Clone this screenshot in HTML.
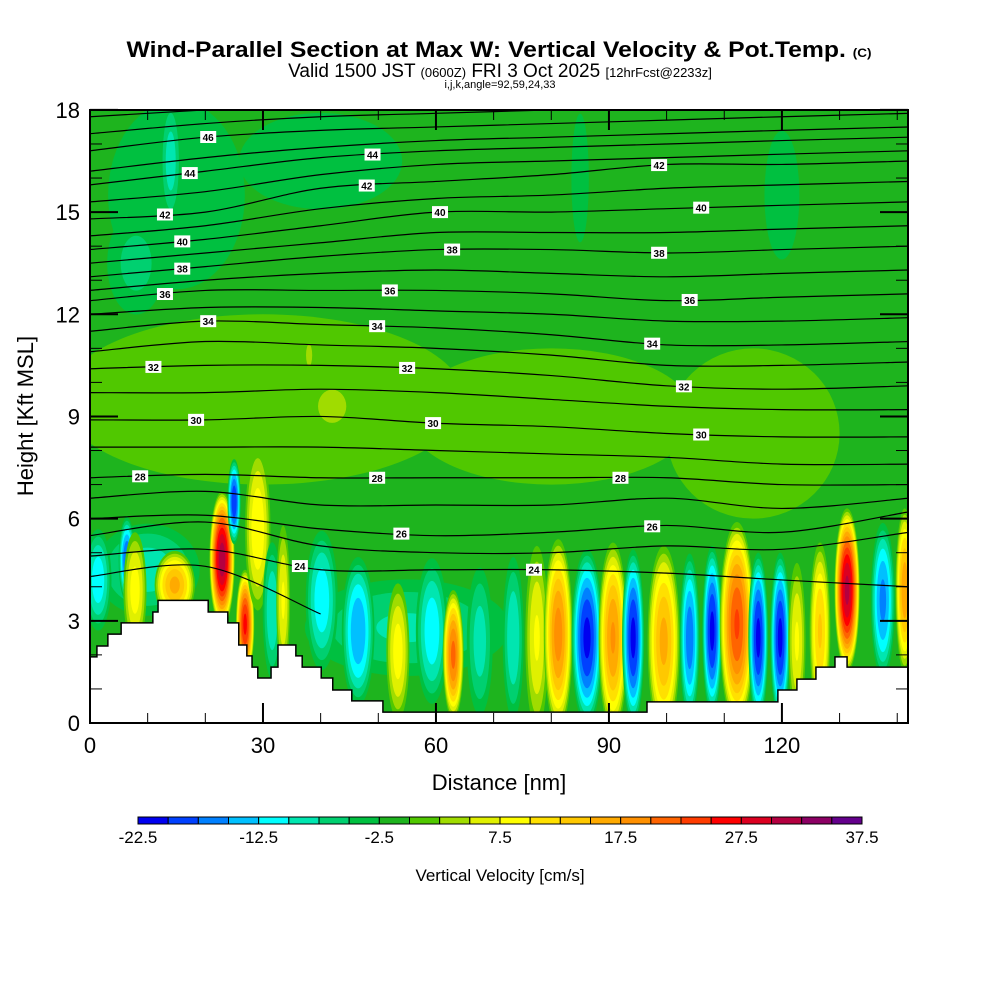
<!DOCTYPE html>
<html><head><meta charset="utf-8"><style>
body{margin:0;background:#fff;}
svg text{font-family:"Liberation Sans",sans-serif;}
</style></head><body>
<svg id="chart" width="1000" height="1000" xmlns="http://www.w3.org/2000/svg">
<defs><clipPath id="clip"><rect x="90" y="110" width="818" height="613"/></clipPath></defs>
<rect width="1000" height="1000" fill="#fff"/>
<text x="499" y="57" text-anchor="middle" font-size="22" font-weight="bold" textLength="745" lengthAdjust="spacingAndGlyphs">Wind-Parallel Section at Max W: Vertical Velocity &amp; Pot.Temp. <tspan font-size="12">(C)</tspan></text>
<text x="500" y="77" text-anchor="middle" font-size="19">Valid 1500 JST <tspan font-size="13">(0600Z)</tspan> FRI 3 Oct 2025 <tspan font-size="13">[12hrFcst@2233z]</tspan></text>
<text x="500" y="88" text-anchor="middle" font-size="11">i,j,k,angle=92,59,24,33</text>
<g id="plot" clip-path="url(#clip)"></g>
<g id="axes"></g>
<g id="cbar"></g>
<text transform="translate(33,416) rotate(-90)" text-anchor="middle" font-size="22">Height [Kft MSL]</text>
<text x="499" y="790" text-anchor="middle" font-size="22">Distance [nm]</text>
<text x="500" y="881" text-anchor="middle" font-size="17">Vertical Velocity [cm/s]</text>
</svg>
<script>
const binColors=["#0000f0","#0040ff","#0080ff","#00c0ff","#00ffff","#00e6b0","#00d070","#00c040","#1eb41e","#50c800","#a0dc00","#e0f000","#ffff00","#ffe000","#ffc800","#ffaa00","#ff9000","#ff6400","#ff3c00","#ff0000","#dc0020","#b40040","#8c0064","#64008c"];
const cbarLabels=["-22.5","-12.5","-2.5","7.5","17.5","27.5","37.5"];
const xTicks=[0,30,60,90,120];
const yTicks=[0,3,6,9,12,15,18];
// vertical velocity blobs (nm, kft, cm/s) with extents
const blobX=[15,14,8,40,85,120,30,80,115,42,38,10,55,
1.4,6.4,7.8,14.7,22.9,25,26.9,29.1,31.6,33.5,40.2,46.5,53.4,59.3,63,67.6,73.4,77.5,81.2,86.2,90.7,94.2,99.5,104,107.9,112.2,115.9,119.7,122.6,126.6,131.3,137.5,141.3];
const blobY=[15.5,16.5,13.5,16.5,16,15.5,9.5,9,8.5,9.3,10.8,4.5,2.8,
4.2,4.8,3.9,4.05,4.8,6.5,2.9,5.7,3.3,3.6,3.6,2.7,2.1,2.7,2.0,2.4,2.5,2.5,2.6,2.5,2.5,2.5,2.4,2.5,2.7,2.9,2.5,2.5,2.4,2.7,3.9,3.6,3.9];
const blobW=[-5,-9,-6,-4,-4.5,-4.5,2,1.5,1.5,4,3.5,-9,-8,
-12,-18,9,16,32,-20,26,10,-10,8,-12,-15,9,-12,21,-9,-10,8,19,-21,18,-21,16,-17,-21,23,-21,-21,8,13,31,-16,17];
const blobRX=[15,2,6,20,2,4,35,25,15,4,1,10,20,
2.5,1.5,2,3.5,2.2,1.2,1.6,2.2,1.8,1.2,3,3,2,3,1.8,2.5,2,2,2.5,2.8,2.5,2,2.8,1.8,1.8,3,1.8,1.8,1.5,1.8,2.2,2.2,1.6];
const blobRY=[3.5,2,1.8,2,2.5,2.5,2.5,2,2.5,0.8,0.6,1.5,1.6,
1.6,1.3,1.7,1.0,2.0,1.3,1.6,2.4,2.2,2.2,2.2,2.3,2.0,2.3,1.9,2.4,2.6,2.7,2.8,2.7,2.8,2.7,2.8,2.6,2.6,3.0,2.6,2.6,2.3,2.6,2.4,2.4,2.4];
// potential temperature contours
const thetaX=[0,20,40,60,80,100,120,142];
const thetaLevels=[48,47,46,45,44,43,42,41,40,39,38,37,36,35,34,33,32,31,30,29,28,27,26,25,24,23];
const thetaH=[
[17.8,18.0,18.2,18.3,18.4,18.5,18.6,18.7],
[17.3,17.6,17.8,17.9,18.0,18.1,18.2,18.3],
[16.8,17.2,17.4,17.5,17.6,17.7,17.8,17.9],
[16.2,16.6,16.9,17.1,17.2,17.3,17.4,17.5],
[15.8,16.2,16.6,16.8,16.9,17.0,17.1,17.2],
[15.3,15.6,16.1,16.4,16.5,16.6,16.7,16.8],
[14.8,15.0,15.7,15.9,16.1,16.4,16.4,16.5],
[14.3,14.6,15.1,15.4,15.5,15.7,15.8,15.9],
[13.9,14.2,14.6,15.0,15.0,15.1,15.2,15.3],
[13.5,13.8,14.1,14.4,14.4,14.4,14.5,14.6],
[13.1,13.4,13.7,13.9,13.9,13.8,13.9,14.0],
[12.7,13.0,13.2,13.3,13.2,13.1,13.2,13.3],
[12.4,12.7,12.7,12.7,12.6,12.4,12.5,12.6],
[12.0,12.2,12.2,12.1,12.0,11.8,11.8,11.9],
[11.5,11.8,11.7,11.6,11.4,11.1,11.1,11.2],
[10.9,11.2,11.1,11.0,10.8,10.5,10.5,10.6],
[10.4,10.5,10.5,10.4,10.2,9.9,9.8,9.9],
[9.7,9.7,9.8,9.7,9.5,9.3,9.2,9.2],
[8.9,8.9,9.0,8.8,8.7,8.5,8.4,8.4],
[8.1,8.1,8.1,8.0,7.9,7.8,7.6,7.6],
[7.2,7.3,7.2,7.2,7.2,7.2,7.0,7.0],
[6.6,6.8,6.4,6.4,6.4,6.6,6.3,6.6],
[6.0,6.1,5.7,5.5,5.6,5.8,5.6,6.2],
[5.5,5.9,5.2,5.0,5.0,5.2,5.1,5.6],
[4.9,5.1,4.5,4.5,4.5,4.4,4.2,4.0],
[4.3,4.6,3.2,null,null,null,null,null]];
const labelTheta=[46,44,44,42,42,42,40,40,40,38,38,38,36,36,36,34,34,34,32,32,32,30,30,30,28,28,28,26,26,24,24];
const labelX=[20.5,17.3,49,13,48,98.7,16,60.7,106,16,62.8,98.7,13,52,104,20.5,49.8,97.5,11,55,103,18.4,59.5,106,8.7,49.8,92,54,97.5,36.4,77];
// terrain (nm, kft)
const terrX=[0,1.2,3.1,5.4,10.9,11.8,20.5,23.9,25.8,27.2,28.1,29.1,31.4,32.6,35.7,36.8,40.1,42.1,45.4,50.8,96.6,119.3,122.6,125.9,129.2,131.3,142];
const terrH=[1.94,2.26,2.61,2.94,3.26,3.6,3.26,2.94,2.29,1.97,1.64,1.32,1.64,2.29,1.97,1.64,1.32,0.97,0.65,0.32,0.62,0.97,1.29,1.64,1.94,1.64,1.64];

const NS="http://www.w3.org/2000/svg";
const X=d=>90+d*5.766, Y=h=>723-h*34.06;
function mk(tag,attrs,parent){const e=document.createElementNS(NS,tag);for(const k in attrs)e.setAttribute(k,attrs[k]);parent.appendChild(e);return e;}
const plot=document.getElementById('plot');
function binOf(v){return Math.max(0,Math.min(23,Math.floor((v+22.5)/2.5)));}
const bg=mk('rect',{x:90,y:110,width:818,height:613,fill:binColors[8]},plot);


blobX.forEach((bx,i)=>{
  const v=blobW[i];
  const g=mk('g',{},plot);
  
  
  const levels=[];
  if(v>0){for(let l=0;l<v;l+=2.5)levels.push(l);}else{for(let l=-2.5;l>v;l-=2.5)levels.push(l);}
  levels.forEach(l=>{
    const f2=v>0?Math.sqrt(1-l/v):Math.sqrt(1-(l+1)/(v+1));
    const r=Math.max(0.08,f2);
    const c=v>0?binColors[binOf(l+0.01)]:binColors[binOf(l-0.01)];
    mk('ellipse',{cx:X(bx),cy:Y(blobY[i]),rx:blobRX[i]*5.766*r,ry:blobRY[i]*34.06*r,fill:c},g);
  });
});
function smoothPath(pts){let d=`M${pts[0][0]},${pts[0][1]}`;for(let i=0;i<pts.length-1;i++){const p0=pts[Math.max(0,i-1)],p1=pts[i],p2=pts[i+1],p3=pts[Math.min(pts.length-1,i+2)];d+=` C${p1[0]+(p2[0]-p0[0])/6},${p1[1]+(p2[1]-p0[1])/6} ${p2[0]-(p3[0]-p1[0])/6},${p2[1]-(p3[1]-p1[1])/6} ${p2[0]},${p2[1]}`;}return d;}
thetaLevels.forEach((t,i)=>{
  const pts=[];thetaX.forEach((x,j)=>{if(thetaH[i][j]!==null)pts.push([X(x),Y(thetaH[i][j])]);});
  const p=mk('path',{d:smoothPath(pts),fill:'none',stroke:'#000','stroke-width':1.2},plot);
  
  
});
// terrain
let td=`M${X(0)},${Y(0)}`;
terrX.forEach((x,i)=>{const nx=i<terrX.length-1?terrX[i+1]:142;td+=` L${X(x)},${Y(terrH[i])} L${X(nx)},${Y(terrH[i])}`;});
td+=` L${X(142)},${Y(0)} Z`;
const tp=mk('path',{d:td,fill:'#fff',stroke:'#000','stroke-width':1.5},plot);


// labels
function thetaAt(t,x){const i=thetaLevels.indexOf(t);for(let j=0;j<thetaX.length-1;j++){if(x<=thetaX[j+1]){const f=(x-thetaX[j])/(thetaX[j+1]-thetaX[j]);return thetaH[i][j]+f*(thetaH[i][j+1]-thetaH[i][j]);}}return thetaH[i][thetaH[i].length-1];}
labelTheta.forEach((t,i)=>{
  const cx=X(labelX[i]),cy=Y(thetaAt(t,labelX[i]));
  const g=mk('g',{},plot);
  
  
  mk('rect',{x:cx-8,y:cy-6,width:16,height:12,fill:'#fff'},g);
  const tx=mk('text',{x:cx,y:cy+4,'text-anchor':'middle','font-size':10,'font-weight':'bold'},g);
  tx.textContent=t;
});
// axes
const axes=document.getElementById('axes');
const fr=mk('rect',{x:90,y:110,width:818,height:613,fill:'none',stroke:'#000','stroke-width':2},axes);


for(let d=0;d<=140;d+=10){const L=d%30===0?20:10;
  mk('line',{x1:X(d),x2:X(d),y1:723,y2:723-L,stroke:'#000','stroke-width':d%30===0?2:1},axes);
  mk('line',{x1:X(d),x2:X(d),y1:110,y2:110+L,stroke:'#000','stroke-width':d%30===0?2:1},axes);}
for(let h=0;h<=18;h+=1){const L=h%3===0?28:12;
  mk('line',{x1:90,x2:90+L,y1:Y(h),y2:Y(h),stroke:'#000','stroke-width':h%3===0?2:1},axes);
  mk('line',{x1:908,x2:908-L,y1:Y(h),y2:Y(h),stroke:'#000','stroke-width':h%3===0?2:1},axes);}
xTicks.forEach(d=>{const t=mk('text',{x:X(d),y:753,'text-anchor':'middle','font-size':22},axes);
  
  
  t.textContent=d;});
yTicks.forEach(h=>{const t=mk('text',{x:80,y:Y(h)+8,'text-anchor':'end','font-size':22},axes);
  
  
  t.textContent=h;});
// colorbar
const cb=document.getElementById('cbar');
const cw=724/24;
binColors.forEach((c,i)=>{const r=mk('rect',{x:138+i*cw,y:817,width:cw,height:7,fill:c,stroke:'#000','stroke-width':1},cb);
  
  });
cbarLabels.forEach((l,i)=>{const t=mk('text',{x:138+i*4*cw,y:843,'text-anchor':'middle','font-size':17},cb);
  
  
  t.textContent=l;});
</script>
</body></html>
